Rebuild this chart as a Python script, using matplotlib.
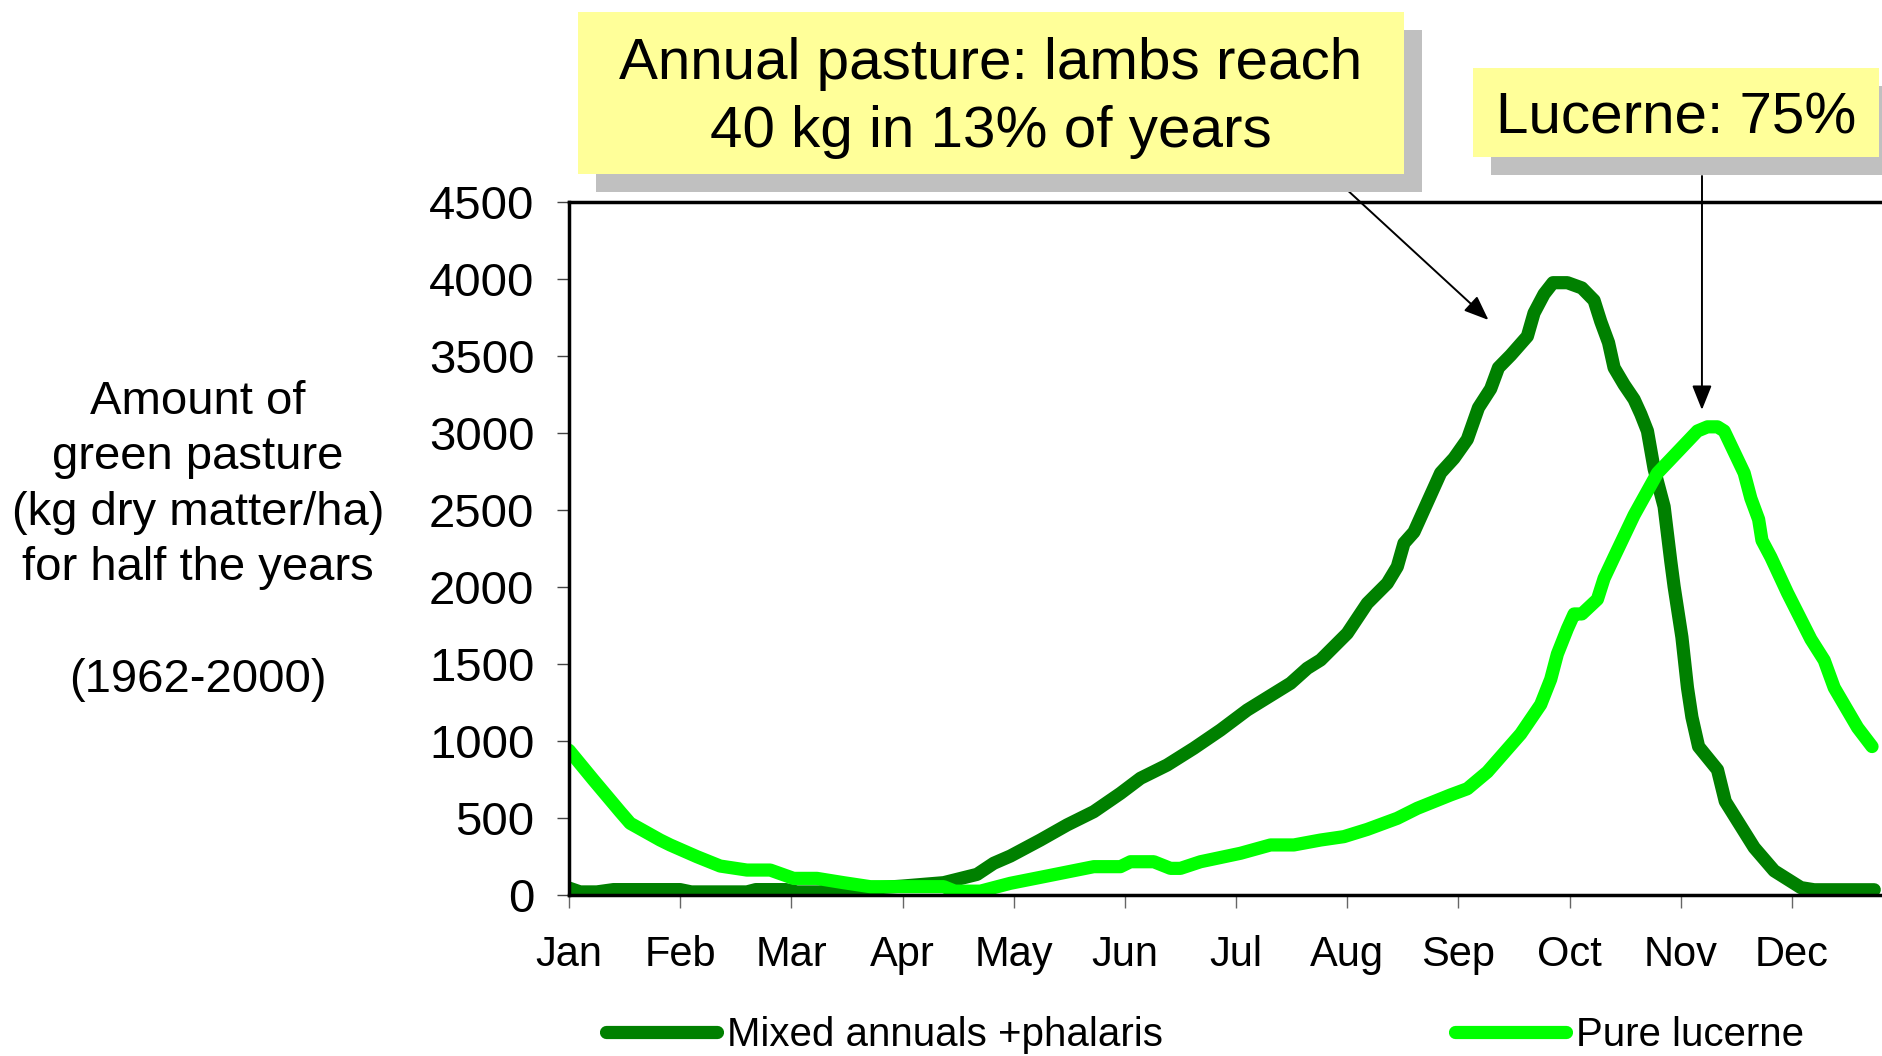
"""Green pasture availability: mixed annuals vs pure lucerne."""

import matplotlib

matplotlib.use("Agg")
import matplotlib.pyplot as plt
from matplotlib.patches import Rectangle

plt.rcParams["font.family"] = ["Liberation Sans", "DejaVu Sans"]

MONTHS = ["Jan", "Feb", "Mar", "Apr", "May", "Jun",
          "Jul", "Aug", "Sep", "Oct", "Nov", "Dec"]
Y_TICKS = [0, 500, 1000, 1500, 2000, 2500, 3000, 3500, 4000, 4500]

# positions in months since 1 Jan, values in kg DM/ha
MIXED_X = [0, 0.1, 0.25, 0.4, 1.0, 1.1, 1.6, 1.68, 1.95, 2.05, 2.25, 2.35,
           2.7, 3.0, 3.37, 3.67, 3.82, 3.97, 4.24, 4.48, 4.72, 4.96, 5.14,
           5.38, 5.62, 5.86, 6.10, 6.49, 6.64, 6.76, 7.00, 7.18, 7.36, 7.45,
           7.51, 7.60, 7.84, 7.96, 8.08, 8.18, 8.29, 8.36, 8.47, 8.62, 8.68,
           8.77, 8.85, 8.98, 9.11, 9.22, 9.28, 9.35, 9.40, 9.49, 9.58, 9.64,
           9.70, 9.76, 9.85, 9.91, 9.94, 10.01, 10.06, 10.10, 10.16, 10.33,
           10.40, 10.66, 10.84, 11.08, 11.20, 11.74]
MIXED_Y = [45, 20, 20, 35, 35, 20, 20, 35, 35, 20, 20, 28,
           43, 58, 80, 134, 206, 253, 357, 455, 541, 660, 758,
           844, 953, 1071, 1201, 1375, 1472, 1526, 1699, 1894, 2024, 2132,
           2284, 2357, 2741, 2836, 2959, 3164, 3287, 3424, 3505, 3628, 3779,
           3902, 3976, 3976, 3942, 3861, 3724, 3587, 3424, 3314, 3218, 3123,
           3013, 2767, 2522, 2166, 2002, 1674, 1346, 1155, 964, 813,
           608, 308, 157, 48, 34, 34]

LUCERNE_X = [0, 0.22, 0.46, 0.55, 0.82, 0.91, 1.15, 1.36, 1.60, 1.81, 2.02,
             2.23, 2.47, 2.71, 3.37, 3.47, 3.70, 3.97, 4.27, 4.72, 4.96, 5.05,
             5.26, 5.41, 5.50, 5.68, 6.04, 6.31, 6.52, 6.76, 6.97, 7.18, 7.45,
             7.63, 7.93, 8.08, 8.26, 8.56, 8.74, 8.83, 8.89, 8.98, 9.04, 9.11,
             9.25, 9.31, 9.40, 9.58, 9.79, 10.15, 10.24, 10.33, 10.39, 10.57,
             10.63, 10.70, 10.73, 10.81, 10.96, 11.17, 11.29, 11.38, 11.59,
             11.72]
LUCERNE_Y = [940, 747, 541, 466, 357, 325, 249, 188, 162, 162, 108,
             108, 80, 54, 54, 25, 25, 76, 119, 184, 184, 216,
             216, 173, 173, 216, 271, 325, 325, 357, 379, 426, 498,
             563, 650, 690, 799, 1046, 1237, 1401, 1565, 1729, 1825, 1825,
             1920, 2056, 2194, 2467, 2740, 3013, 3040, 3040, 3013, 2740,
             2576, 2439, 2303, 2194, 1961, 1661, 1524, 1346, 1087,
             964]

DARK = "#008000"
LIME = "#00FF00"
YELLOW = "#FFFF99"
SHADOW = "#C0C0C0"

W, H = 1883, 1056


def frac(x, y):
    """Pixel position measured from the top-left corner -> figure fraction."""
    return x / W, 1 - y / H


fig = plt.figure(figsize=(W / 100, H / 100), dpi=100)
ax = fig.add_axes([569 / W, 161 / H, (W - 569) / W, 693 / H])

line_kw = dict(linewidth=9.5, solid_capstyle="round", solid_joinstyle="round")
ax.plot(MIXED_X, MIXED_Y, color=DARK, label="Mixed annuals +phalaris", **line_kw)
ax.plot(LUCERNE_X, LUCERNE_Y, color=LIME, label="Pure lucerne", **line_kw)

ax.set_xlim(0, (W - 569) / 111.18)
ax.set_ylim(0, 4500)
ax.set_xticks(range(len(MONTHS)), MONTHS)
ax.set_yticks(Y_TICKS)
ax.tick_params(axis="x", labelsize=30, length=9, width=1, color="#666666", pad=20)
ax.tick_params(axis="y", labelsize=34, length=9, width=1, color="#444444", pad=16)
for side in ("left", "bottom", "top"):
    ax.spines[side].set_linewidth(2.5)
ax.spines["right"].set_visible(False)

fig.text(198 / W, 0.488,
         "Amount of\ngreen pasture\n(kg dry matter/ha)\nfor half the years\n\n(1962-2000)",
         ha="center", va="center", fontsize=34, linespacing=1.34)

# callout boxes with their drop shadows
for x0, y0, x1, y1, text, dy in [
    (578, 12, 1404, 174, "Annual pasture: lambs reach\n40 kg in 13% of years", 5),
    (1473, 68, 1879, 157, "Lucerne: 75%", 6),
]:
    sx, sy = frac(x0 + 18, y1 + 18)
    fig.add_artist(Rectangle((sx, sy), (x1 - x0) / W, (y1 - y0) / H,
                             transform=fig.transFigure, facecolor=SHADOW,
                             edgecolor="none"))
    bx, by = frac(x0, y1)
    fig.add_artist(Rectangle((bx, by), (x1 - x0) / W, (y1 - y0) / H,
                             transform=fig.transFigure, facecolor=YELLOW,
                             edgecolor="none"))
    cx, cy = frac((x0 + x1) / 2, (y0 + y1) / 2 + dy)
    fig.text(cx, cy, text, ha="center", va="center", fontsize=42, linespacing=1.32)

arrow_kw = dict(arrowstyle="-|>,head_length=0.75,head_width=0.3",
                color="black", linewidth=1.4, shrinkA=0, shrinkB=0,
                mutation_scale=20)
ax.annotate("", xy=(8.27, 3734), xycoords="data",
            xytext=(1344, H - 187), textcoords="figure pixels",
            arrowprops=arrow_kw, annotation_clip=False)
ax.annotate("", xy=(10.19, 3150), xycoords="data",
            xytext=(1702, H - 176), textcoords="figure pixels",
            arrowprops=arrow_kw, annotation_clip=False)

fig.legend(loc="center left", bbox_to_anchor=frac(606, 1035),
           ncol=2, frameon=False, fontsize=29, handlelength=2.75,
           handletextpad=0.25, columnspacing=7.25, borderpad=0,
           borderaxespad=0)

fig.savefig("out.png", dpi=100)
